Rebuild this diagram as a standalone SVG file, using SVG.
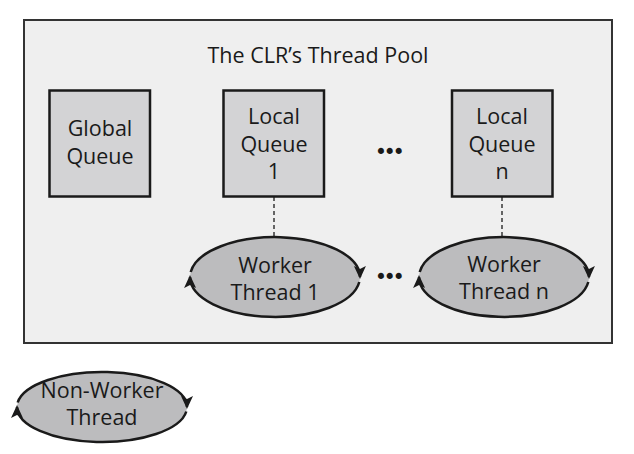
<svg xmlns="http://www.w3.org/2000/svg" width="634" height="454" viewBox="0 0 634 454">
<style>
text{font-family:"Open Sans","Noto Sans","DejaVu Sans",sans-serif;font-size:21.5px;fill:#1a1a1a;text-anchor:middle}
.box{fill:#d3d3d5;stroke:#1a1a1a;stroke-width:2.5}
.ell{fill:#bcbcbe;stroke:none}
.arc{fill:none;stroke:#1a1a1a;stroke-width:2.5;marker-end:url(#ah)}
.dash{stroke:#1a1a1a;stroke-width:1.3;stroke-dasharray:4,3;fill:none}
.dots{font-family:"DejaVu Sans",sans-serif;font-size:21px;letter-spacing:-3.6px}
</style>
<defs>
<marker id="ah" markerWidth="16" markerHeight="14" refX="11" refY="6" orient="auto" markerUnits="userSpaceOnUse">
<path d="M0,0 L13,6 L0,12 L3,6 Z" fill="#1a1a1a"/>
</marker>
</defs>
<g id="pool">
<rect x="24" y="20" width="588" height="323" fill="#efefef" stroke="#333" stroke-width="2"/>
<text x="318" y="63">The CLR’s Thread Pool</text>
</g>
<g id="global-queue">
<rect class="box" x="49.5" y="90.5" width="100.5" height="106"/>
<text x="100" y="136">Global</text>
<text x="100" y="164">Queue</text>
</g>
<g id="local-queue-1">
<rect class="box" x="223.5" y="90.5" width="100.5" height="106"/>
<text x="274" y="124">Local</text>
<text x="274" y="152">Queue</text>
<text x="274" y="179">1</text>
</g>
<g id="local-queue-n">
<rect class="box" x="452" y="90.5" width="100.5" height="106"/>
<text x="502" y="124">Local</text>
<text x="502" y="152">Queue</text>
<text x="502" y="179">n</text>
</g>
<g id="dots-top"><text class="dots" x="388" y="159">•••</text></g>
<g id="worker-thread-1">
<ellipse class="ell" cx="275" cy="277" rx="85" ry="40"/>
<path class="arc" d="M190.7,272 A85,40 0 0 1 360,277"/>
<path class="arc" d="M359.3,282 A85,40 0 0 1 190,277"/>
<text x="275" y="273">Worker</text>
<text x="275" y="300">Thread 1</text>
</g>
<g id="dots-bottom"><text class="dots" x="388" y="284">•••</text></g>
<g id="worker-thread-n">
<ellipse class="ell" cx="504" cy="277" rx="85" ry="40"/>
<path class="arc" d="M419.7,272 A85,40 0 0 1 589,277"/>
<path class="arc" d="M588.3,282 A85,40 0 0 1 419,277"/>
<text x="504" y="272">Worker</text>
<text x="504" y="299">Thread n</text>
</g>
<g id="non-worker-thread">
<ellipse class="ell" cx="102" cy="407" rx="85" ry="35"/>
<path class="arc" d="M17.7,402.5 A85,35 0 0 1 187,407"/>
<path class="arc" d="M186.3,411.5 A85,35 0 0 1 17,407"/>
<text x="102" y="398">Non-Worker</text>
<text x="102" y="425">Thread</text>
</g>
<g id="connectors">
<line class="dash" x1="274" y1="197" x2="274" y2="237"/>
<line class="dash" x1="502" y1="197" x2="502" y2="237"/>
</g>
</svg>
